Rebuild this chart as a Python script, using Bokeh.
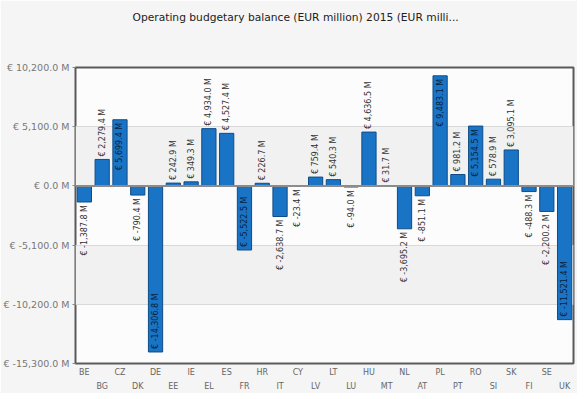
from bokeh.plotting import figure
from bokeh.models import ColumnDataSource, FixedTicker, LinearAxis, Span, Title, Range1d
from bokeh.core.properties import value
from bokeh.embed import file_html
from bokeh.resources import INLINE

# ---- data ----
countries = ["BE", "BG", "CZ", "DK", "DE", "EE", "IE", "EL", "ES", "FR", "HR", "IT", "CY", "LV",
             "LT", "LU", "HU", "MT", "NL", "AT", "PL", "PT", "RO", "SI", "SK", "FI", "SE", "UK"]
balance = [-1387.8, 2279.4, 5699.4, -790.4, -14306.8, 242.9, 349.3, 4934.0, 4527.4, -5522.5,
           226.7, -2638.7, -23.4, 759.4, 540.3, -94.0, 4636.5, 31.7, -3695.2, -851.1,
           9483.1, 981.2, 5154.5, 578.9, 3095.1, -488.3, -2200.2, -11521.4]
y_ticks = [-15300, -10200, -5100, 0, 5100, 10200]
title_text = "Operating budgetary balance (EUR million) 2015 (EUR milli..."
INSIDE_MIN = 5000  # labels of larger bars are drawn inside the bar

FONT = "DejaVu Sans"
BG = "#f5f5f5"


def fmt(v):
    return f"€ {v:,.1f} M"


idx = list(range(len(countries)))

p = figure(x_range=Range1d(-0.5, len(countries) - 0.5), y_range=Range1d(y_ticks[0], y_ticks[-1]),
           frame_width=498, frame_height=296,
           output_backend="svg", toolbar_location=None,
           min_border_left=0, min_border_right=4, min_border_top=0, min_border_bottom=0)

# outermost: tiny spacer; then the real title; then a spacer down to the frame
p.title.text = " "
p.title.text_font_size = "1px"
p.title.standoff = 0
p.add_layout(Title(text=" ", text_font_size="24px"), "above")
p.add_layout(Title(text=title_text, text_font=FONT, text_font_size="10.7px",
                   text_font_style="normal", text_color="#222222",
                   align="left", offset=57), "above")

p.background_fill_color = "#fcfcfc"
p.border_fill_color = BG
p.outline_line_color = "#5a5a5a"
p.outline_line_width = 2

# grid
p.xgrid.grid_line_color = None
p.ygrid.ticker = FixedTicker(ticks=y_ticks)
p.ygrid.grid_line_color = "#d9d9d9"
p.ygrid.band_fill_color = "#f1f1f1"
p.ygrid.band_fill_alpha = 1.0

# y axis
p.yaxis.ticker = FixedTicker(ticks=y_ticks)
p.yaxis.major_label_overrides = {t: fmt(t) for t in y_ticks}
p.yaxis.axis_line_color = None
p.yaxis.major_tick_out = 3
p.yaxis.major_tick_in = 0
p.yaxis.major_tick_line_color = "#888888"
p.yaxis.minor_tick_line_color = None
p.yaxis.major_label_text_font = FONT
p.yaxis.major_label_text_font_size = "9.5px"
p.yaxis.major_label_text_color = "#777777"
p.yaxis.major_label_standoff = 3

# x axes (two staggered rows)
xa = p.xaxis[0]
xa.ticker = FixedTicker(ticks=idx[0::2])
xa.major_label_overrides = {i: countries[i] for i in idx[0::2]}
ax2 = LinearAxis(ticker=FixedTicker(ticks=idx[1::2]),
                 major_label_overrides={i: countries[i] for i in idx[1::2]})
for ax, so in ((xa, 4), (ax2, 2)):
    ax.axis_line_color = None
    ax.major_tick_line_color = None
    ax.minor_tick_line_color = None
    ax.major_tick_out = 0
    ax.major_tick_in = 0
    ax.major_label_text_font = FONT
    ax.major_label_text_font_size = "8px"
    ax.major_label_text_color = "#666666"
    ax.major_label_standoff = so
p.add_layout(ax2, "below")

# bars
src = ColumnDataSource(dict(x=idx, top=balance))
p.vbar(x="x", top="top", bottom=0, width=0.8, source=src,
       fill_color="#1a74c6", line_color="#0e4c88", line_width=1)

p.add_layout(Span(location=0, dimension="width", line_color="#8c8c8c", line_width=2))

# data labels
groups = {"left": dict(x=[], y=[], t=[], c=[]), "right": dict(x=[], y=[], t=[], c=[])}
for i, v in zip(idx, balance):
    inside = abs(v) > INSIDE_MIN
    align = "left" if (v >= 0) != inside else "right"
    g = groups[align]
    g["x"].append(i)
    g["y"].append(v)
    g["t"].append(fmt(v))
    g["c"].append("#0a1f3a" if inside else "#333333")

for align, g in groups.items():
    p.text(x="x", y="y", text="t", source=ColumnDataSource(g), angle=1.5708,
           text_align=align, text_baseline="middle",
           y_offset=-3 if align == "left" else 3,
           text_font=value(FONT), text_font_size="8px", text_color="c")

html = file_html(p, INLINE)
html = html.replace("<body>", f'<body style="background:{BG}">', 1)
open("out.html", "w").write(html)
